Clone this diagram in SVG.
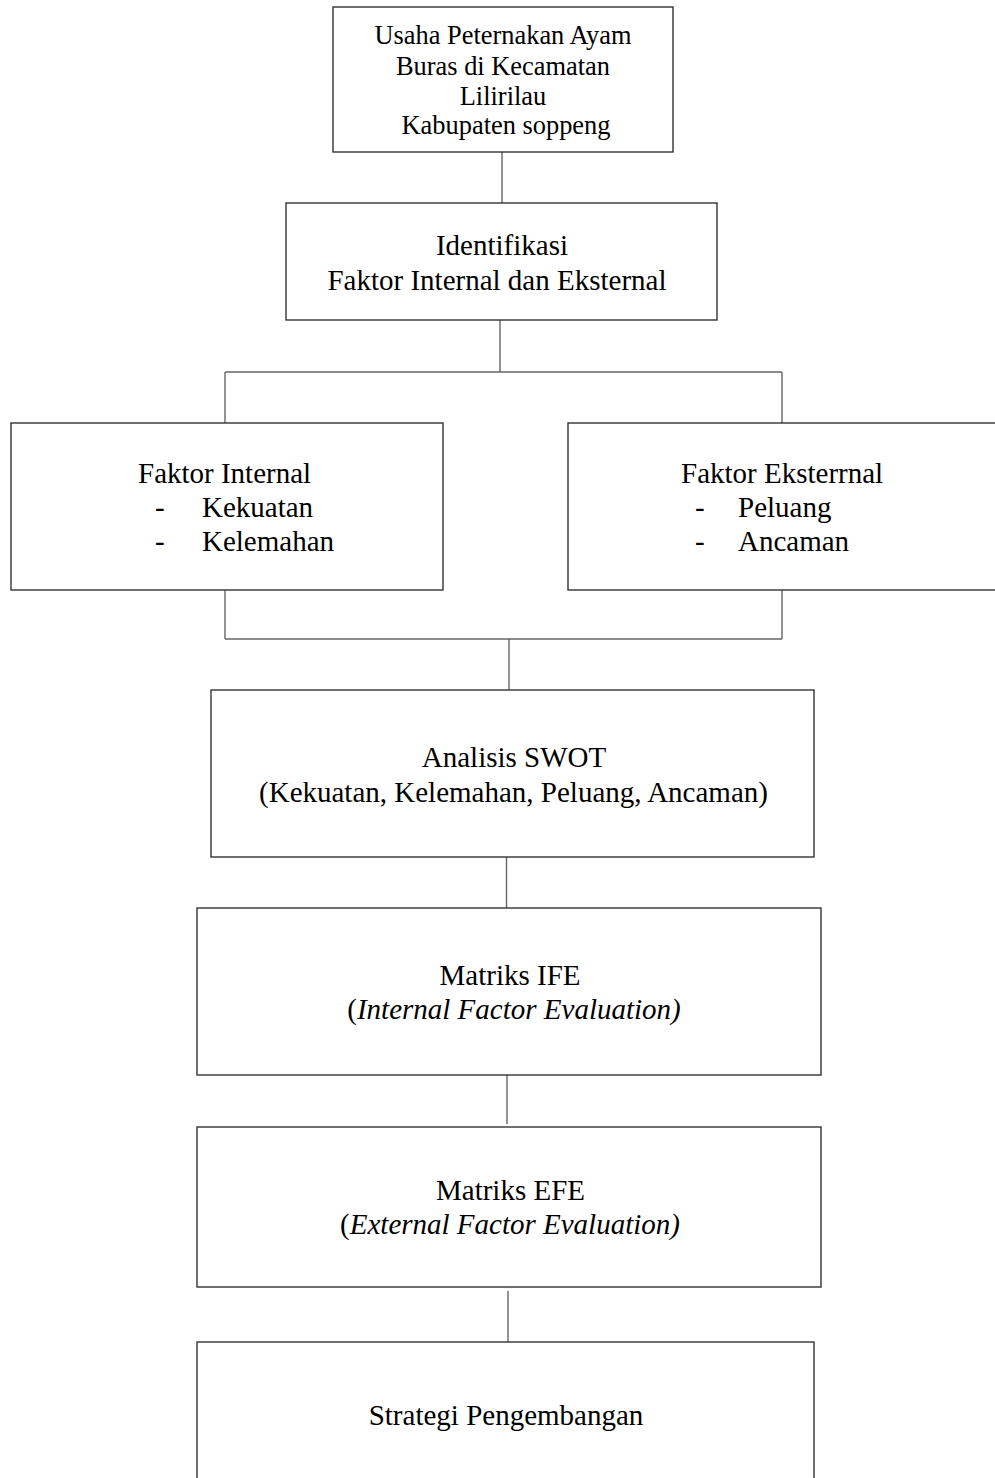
<svg xmlns="http://www.w3.org/2000/svg" width="995" height="1478" viewBox="0 0 995 1478">
<style>
.box{fill:#fff;stroke:#333;stroke-width:1.4}
.con line{stroke:#666;stroke-width:1.4}
text{font-family:"Liberation Serif","Times New Roman",serif;fill:#000}
.t24{font-size:26.4px}
.t28{font-size:29px}
.c{text-anchor:middle}
.i{font-style:italic}
</style>
<rect width="995" height="1478" fill="#fff"/>
<g id="connectors" class="con">
<line x1="502" y1="152" x2="502" y2="203"/>
<line x1="500" y1="320" x2="500" y2="372"/>
<line x1="225" y1="372" x2="782" y2="372"/>
<line x1="225" y1="372" x2="225" y2="423"/>
<line x1="782" y1="372" x2="782" y2="423"/>
<line x1="225" y1="590" x2="225" y2="639"/>
<line x1="782" y1="590" x2="782" y2="639"/>
<line x1="225" y1="639" x2="782" y2="639"/>
<line x1="509" y1="639" x2="509" y2="690"/>
<line x1="506.5" y1="857" x2="506.5" y2="908"/>
<line x1="507" y1="1075" x2="507" y2="1124"/>
<line x1="508" y1="1291" x2="508" y2="1342"/>
</g>
<g id="usaha">
<rect class="box" x="333" y="7" width="340" height="145"/>
<text class="t24 c" x="503" y="44">Usaha Peternakan Ayam</text>
<text class="t24 c" x="503" y="74.5">Buras di Kecamatan</text>
<text class="t24 c" x="503" y="104.5">Lilirilau</text>
<text class="t24 c" x="506" y="134">Kabupaten soppeng</text>
</g>
<g id="identifikasi">
<rect class="box" x="286" y="203" width="431" height="117"/>
<text class="t28 c" x="502" y="255">Identifikasi</text>
<text class="t28 c" x="497" y="290">Faktor Internal dan Eksternal</text>
</g>
<g id="faktor-internal">
<rect class="box" x="11" y="423" width="432" height="167"/>
<text class="t28" x="138" y="483">Faktor Internal</text>
<text class="t28" x="155" y="517">-</text>
<text class="t28" x="202" y="517">Kekuatan</text>
<text class="t28" x="155" y="551">-</text>
<text class="t28" x="202" y="551">Kelemahan</text>
</g>
<g id="faktor-eksternal">
<rect class="box" x="568" y="423" width="440" height="167"/>
<text class="t28" x="681" y="483">Faktor Eksterrnal</text>
<text class="t28" x="695" y="517">-</text>
<text class="t28" x="738" y="517">Peluang</text>
<text class="t28" x="695" y="551">-</text>
<text class="t28" x="738" y="551">Ancaman</text>
</g>
<g id="swot">
<rect class="box" x="211" y="690" width="603" height="167"/>
<text class="t28 c" x="514" y="767">Analisis SWOT</text>
<text class="t28 c" x="513.5" y="802">(Kekuatan, Kelemahan, Peluang, Ancaman)</text>
</g>
<g id="ife">
<rect class="box" x="197" y="908" width="624" height="167"/>
<text class="t28 c" x="510" y="985">Matriks IFE</text>
<text class="t28 c" x="514" y="1019">(<tspan class="i">Internal Factor Evaluation)</tspan></text>
</g>
<g id="efe">
<rect class="box" x="197" y="1127" width="624" height="160"/>
<text class="t28 c" x="510.5" y="1200">Matriks EFE</text>
<text class="t28 c" x="510" y="1234">(<tspan class="i">External Factor Evaluation)</tspan></text>
</g>
<g id="strategi">
<rect class="box" x="197" y="1342" width="617" height="160"/>
<text class="t28 c" x="506" y="1425">Strategi Pengembangan</text>
</g>
</svg>
